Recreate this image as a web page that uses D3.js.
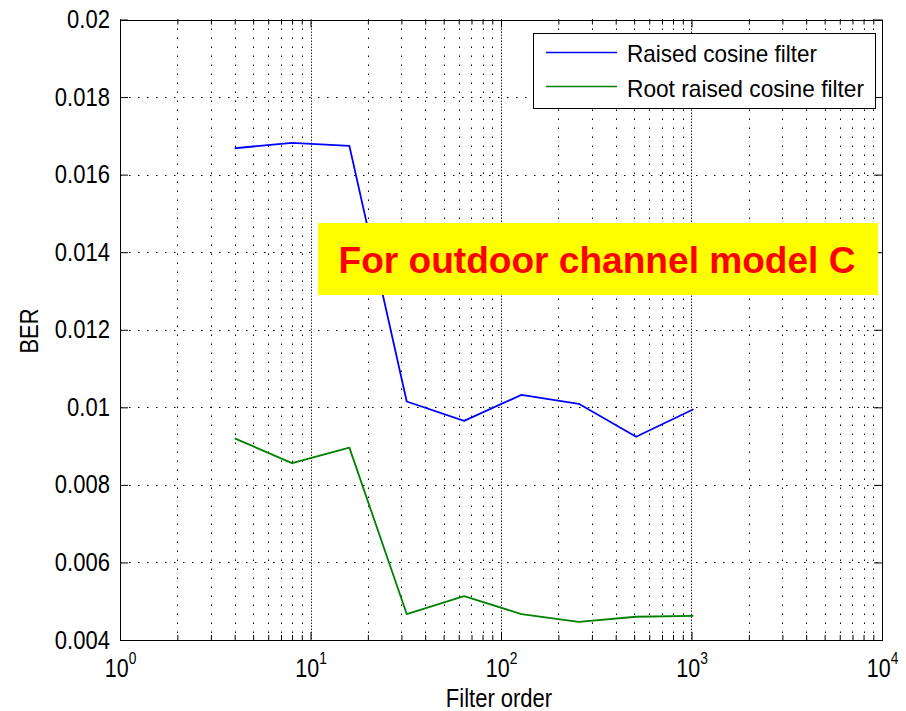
<!DOCTYPE html>
<html>
<head>
<meta charset="utf-8">
<script src="https://cdn.jsdelivr.net/npm/d3@7"></script>
<style>
  html, body { margin: 0; padding: 0; background: #fff; }
  svg { display: block; }
  text { font-family: "Liberation Sans", Arial, Helvetica, sans-serif; fill: #000; }
</style>
</head>
<body>
<svg id="chart" width="906" height="711"></svg>
<script>
// ---- data ----
const filterOrder = [4, 8, 16, 32, 64, 128, 256, 512, 1024];
const raisedCosine = [0.01668, 0.01682, 0.01674, 0.01015, 0.00965, 0.01032, 0.01009, 0.00924, 0.00995];
const rootRaisedCosine = [0.0092, 0.00856, 0.00896, 0.00467, 0.00513, 0.00467, 0.00447, 0.0046, 0.00462];
const seriesNames = ["Raised cosine filter", "Root raised cosine filter"];
const seriesColors = ["#0000ff", "#008000"];
const yTicks = [0.004, 0.006, 0.008, 0.01, 0.012, 0.014, 0.016, 0.018, 0.02];
const xMajorTicks = [1, 10, 100, 1000, 10000];
const xLabel = "Filter order";
const yLabel = "BER";
const annotation = "For outdoor channel model C";

// ---- layout ----
const L = 120, R = 882, T = 19.5, B = 640;
const svg = d3.select("#chart");
svg.append("rect").attr("width", 906).attr("height", 711).attr("fill", "#fff");

const x = d3.scaleLog().domain([1, 1e4]).range([L, R]);
const y = d3.scaleLinear().domain([0.004, 0.02]).range([B, T]);

// minor tick values
const xMinor = [];
for (let k = 0; k < 4; k++) for (let m = 2; m <= 9; m++) xMinor.push(m * Math.pow(10, k));

// ---- grid ----
const grid = svg.append("g").attr("stroke", "#000").attr("stroke-width", 1).attr("fill", "none");
grid.selectAll("line.vmin").data(xMinor).join("line")
  .attr("x1", d => Math.round(x(d)) + 0.5).attr("x2", d => Math.round(x(d)) + 0.5)
  .attr("y1", T).attr("y2", B)
  .attr("stroke-dasharray", "1.5,7.5");
grid.selectAll("line.vmaj").data(xMajorTicks.slice(1, -1)).join("line")
  .attr("x1", d => Math.round(x(d)) + 0.5).attr("x2", d => Math.round(x(d)) + 0.5)
  .attr("y1", T).attr("y2", B)
  .attr("stroke-dasharray", "1.5,1.5").attr("stroke-opacity", 0.85);
grid.selectAll("line.h").data(yTicks.slice(1, -1)).join("line")
  .attr("x1", L).attr("x2", R)
  .attr("y1", d => Math.round(y(d)) + 0.5).attr("y2", d => Math.round(y(d)) + 0.5)
  .attr("stroke-dasharray", "1.5,7.5");

// ---- axes ----
const fmtY = d => String(+d.toFixed(3));

// bottom minor
svg.append("g").attr("transform", `translate(0,${B})`)
  .call(d3.axisBottom(x).tickValues(xMinor).tickSizeInner(-5).tickSizeOuter(0).tickFormat(""))
  .call(g => g.select(".domain").remove());
// bottom major with labels
const bx = svg.append("g").attr("transform", `translate(0,${B})`)
  .call(d3.axisBottom(x).tickValues(xMajorTicks).tickSizeInner(-8).tickSizeOuter(0).tickFormat(""));
bx.select(".domain").remove();
bx.selectAll(".tick text").each(function(d) {
  const t = d3.select(this);
  t.attr("y", 37).attr("dy", null).attr("font-size", 25).attr("font-family", "Liberation Sans, Arial, sans-serif")
   .attr("transform", "scale(0.86,1)").attr("text-anchor", "middle");
  t.text("10");
  t.append("tspan").attr("font-size", 16).attr("dy", -13).text(Math.round(Math.log10(d)));
});

// top ticks
svg.append("g").attr("transform", `translate(0,${T})`)
  .call(d3.axisTop(x).tickValues(xMinor).tickSizeInner(-5).tickSizeOuter(0).tickFormat(""))
  .call(g => g.select(".domain").remove());
svg.append("g").attr("transform", `translate(0,${T})`)
  .call(d3.axisTop(x).tickValues(xMajorTicks).tickSizeInner(-8).tickSizeOuter(0).tickFormat(""))
  .call(g => g.select(".domain").remove());

// left axis
const ly = svg.append("g").attr("transform", `translate(${L},0)`)
  .call(d3.axisLeft(y).tickValues(yTicks).tickSizeInner(-8).tickSizeOuter(0).tickFormat(fmtY));
ly.select(".domain").remove();
ly.selectAll(".tick text")
  .attr("x", -11.5).attr("font-size", 25).attr("font-family", "Liberation Sans, Arial, sans-serif")
  .attr("transform", "scale(0.88,1)").attr("fill", "#000");

// right axis
svg.append("g").attr("transform", `translate(${R},0)`)
  .call(d3.axisRight(y).tickValues(yTicks).tickSizeInner(-8).tickSizeOuter(0).tickFormat(""))
  .call(g => g.select(".domain").remove());

// frame
svg.append("rect").attr("x", L + 0.5).attr("y", Math.round(T) + 0.5)
  .attr("width", R - L).attr("height", B - Math.round(T))
  .attr("fill", "none").attr("stroke", "#000").attr("stroke-width", 1);

// ---- lines ----
const line = d3.line().x(d => x(d[0])).y(d => y(d[1]));
const series = [raisedCosine, rootRaisedCosine];
series.forEach((vals, i) => {
  svg.append("path")
    .datum(filterOrder.map((f, j) => [f, vals[j]]))
    .attr("d", line)
    .attr("fill", "none")
    .attr("stroke", seriesColors[i])
    .attr("stroke-width", 1.8)
    .attr("stroke-linejoin", "round");
});

// ---- axis titles ----
svg.append("text").attr("transform", "translate(499,707) scale(0.88,1)")
  .attr("text-anchor", "middle").attr("font-size", 25).text(xLabel);
svg.append("text").attr("transform", "translate(38,331) rotate(-90) scale(0.88,1)")
  .attr("text-anchor", "middle").attr("font-size", 25).text(yLabel);

// ---- legend ----
const lg = svg.append("g");
lg.append("rect").attr("x", 533.5).attr("y", 33.5).attr("width", 342).attr("height", 75)
  .attr("fill", "#fff").attr("stroke", "#000").attr("stroke-width", 1);
const legY = [52.5, 86.5];
const legBase = [61.5, 97];
const legLen = [190, 237];
seriesNames.forEach((name, i) => {
  lg.append("line").attr("x1", 546).attr("x2", 617).attr("y1", legY[i]).attr("y2", legY[i])
    .attr("stroke", seriesColors[i]).attr("stroke-width", 1.5);
  lg.append("text").attr("x", 627).attr("y", legBase[i]).attr("font-size", 24)
    .attr("textLength", legLen[i]).attr("lengthAdjust", "spacingAndGlyphs").text(name);
});

// ---- annotation ----
svg.append("rect").attr("x", 318).attr("y", 223).attr("width", 560).attr("height", 72).attr("fill", "#ffff00");
svg.append("text").attr("x", 597).attr("y", 273).attr("text-anchor", "middle")
  .attr("font-size", 37).attr("font-weight", "bold").attr("textLength", 517).attr("lengthAdjust", "spacingAndGlyphs")
  .style("fill", "#ff0000").text(annotation);
</script>
</body>
</html>
